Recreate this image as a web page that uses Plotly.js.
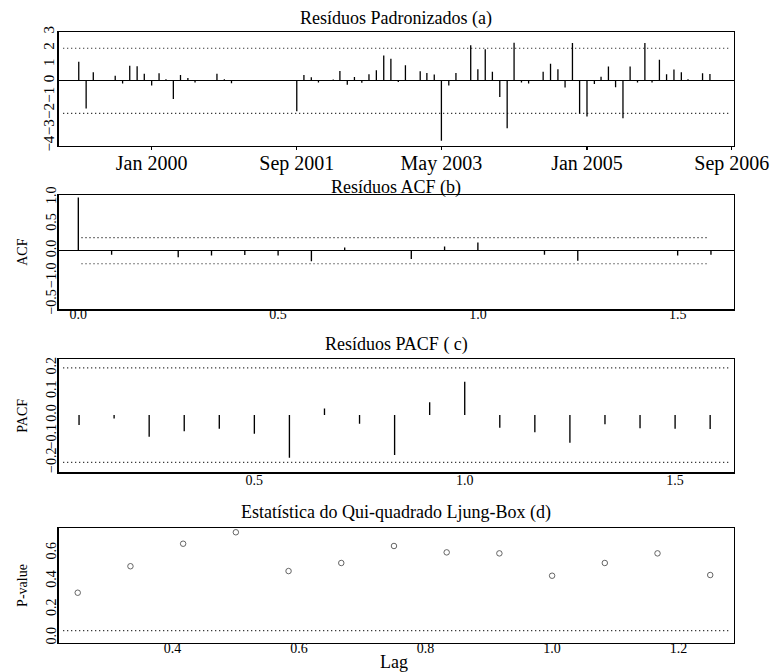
<!DOCTYPE html>
<html><head><meta charset="utf-8">
<script src="https://cdn.plot.ly/plotly-3.0.1.min.js"></script>
<style>html,body{margin:0;padding:0;background:#fff}#chart{width:773px;height:672px}</style>
</head><body><div id="chart"></div>
<script>
// ---- data ----
const residStartYear = 1999;
const residStartMonth = 3; // March 1999
const residValues = [
  1.17, -1.71, 0.52, 0, 0, 0.31, -0.17, 0.92, 0.90, 0.44,
  -0.29, 0.46, 0.10, -1.12, 0.35, 0.17, -0.10, 0, 0, 0.44,
  0.10, -0.15, 0, 0, 0, 0, 0, 0, 0, 0,
  -1.88, 0.35, 0.21, -0.10, 0, 0.08, 0.60, -0.25, 0.23, -0.12,
  0.40, 0.65, 1.56, 1.35, -0.08, 0.96, 0, 0.58, 0.48, 0.38,
  -3.68, -0.29, 0.48, 0, 2.18, 0.71, 1.94, 0.56, -1.00, -2.92,
  2.34, -0.10, -0.17, 0, 0.56, 1.04, 0.71, -0.42, 2.33, -2.03,
  -2.20, -0.19, 0.25, 0.88, -0.40, -2.30, 0.88, -0.10, 2.33, -0.10,
  1.30, 0.40, 0.70, 0.52, 0.10, 0, 0.46, 0.42
];
const dateTickVals = ['2000-01-01', '2001-09-01', '2003-05-01', '2005-01-01', '2006-09-01'];
const dateTickText = ['Jan 2000', 'Sep 2001', 'May 2003', 'Jan 2005', 'Sep 2006'];
const residTickVals = [-4, -3, -2, -1, 0, 1, 2, 3];
const residTickText = ['\u22124', '\u22123', '\u22122', '\u22121', '0', '1', '2', '3'];
const residBand = [2, -2];

const acfLagMonths = [0, 1, 2, 3, 4, 5, 6, 7, 8, 9, 10, 11, 12, 13, 14, 15, 16, 17, 18, 19];
const acfValues = [1.0, -0.075, 0.0, -0.125, -0.09, -0.08, -0.09, -0.20, 0.06, 0.0,
                   -0.155, 0.08, 0.155, 0.0, -0.075, -0.19, 0.0, 0.0, -0.09, -0.075];
const acfTickVals = [-1, -0.5, 0, 0.5, 1];
const acfTickText = ['\u22120.5', '\u22121.0', '0.0', '0.5', '1.0'];
const acfBand = [0.245, -0.245];

const pacfLagMonths = [1, 2, 3, 4, 5, 6, 7, 8, 9, 10, 11, 12, 13, 14, 15, 16, 17, 18, 19];
const pacfValues = [-0.042, -0.014, -0.092, -0.068, -0.058, -0.079, -0.180, 0.028, -0.037, -0.169,
                    0.054, 0.141, -0.054, -0.073, -0.117, -0.039, -0.056, -0.058, -0.059];
const pacfTickVals = [-0.2, -0.1, 0, 0.1, 0.2];
const pacfTickText = ['\u22120.2', '\u22120.1', '0.0', '0.1', '0.2'];
const pacfBand = [0.2, -0.2];

const lbLagMonths = [3, 4, 5, 6, 7, 8, 9, 10, 11, 12, 13, 14, 15];
const lbPValues = [0.318, 0.505, 0.664, 0.745, 0.471, 0.528, 0.648, 0.603, 0.596, 0.438, 0.528, 0.596, 0.443];
const lbTickVals = [0, 0.2, 0.4, 0.6];
const lbTickText = ['0.0', '0.2', '0.4', '0.6'];
const lbLevel = 0.05;

const lagTickVals = [0, 0.5, 1, 1.5];
const lagTickText = ['0.0', '0.5', '1.0', '1.5'];
const lbXTickVals = [0.4, 0.6, 0.8, 1.0, 1.2];
const lbXTickText = ['0.4', '0.6', '0.8', '1.0', '1.2'];

// ---- derived ----
const residDates = residValues.map((_, i) => {
  const t = (residStartMonth - 1) + i;
  const y = residStartYear + Math.floor(t / 12);
  const m = (t % 12) + 1;
  return y + '-' + String(m).padStart(2, '0') + '-01';
});
const acfLags = acfLagMonths.map(k => k / 12);
const pacfLags = pacfLagMonths.map(k => k / 12);
const lbLags = lbLagMonths.map(k => k / 12);

const FONT = '"Liberation Serif", "Times New Roman", serif';
const W = 773, H = 672;
const xDom = [58.5 / W, 734 / W];
const yDom = (top, bot) => [1 - bot / H, 1 - top / H];

const frame = {
  showline: true, mirror: true, linecolor: '#000', linewidth: 1.3,
  showgrid: false, zeroline: false, color: '#000',
  tickfont: {family: FONT, size: 14, color: '#000'}
};

const traces = [
  {type: 'bar', x: residDates, y: residValues, xaxis: 'x', yaxis: 'y',
   width: 4.7e8, marker: {color: '#000', line: {width: 0}}, hoverinfo: 'skip'},
  {type: 'bar', x: acfLags, y: acfValues, xaxis: 'x2', yaxis: 'y2',
   width: 0.0034, marker: {color: '#000', line: {width: 0}}, hoverinfo: 'skip'},
  {type: 'bar', x: pacfLags, y: pacfValues, xaxis: 'x3', yaxis: 'y3',
   width: 0.0032, marker: {color: '#000', line: {width: 0}}, hoverinfo: 'skip'},
  {type: 'scatter', mode: 'markers', x: lbLags, y: lbPValues, xaxis: 'x4', yaxis: 'y4',
   marker: {symbol: 'circle-open', size: 5.5, color: '#555', line: {width: 0.9, color: '#555'}},
   hoverinfo: 'skip'}
];

const dotted = {color: '#000', width: 1.2, dash: '1px,3px'};
const shapes = [];
residBand.forEach(v => shapes.push({type: 'line', xref: 'x domain', yref: 'y', x0: 0.007, x1: 0.993, y0: v, y1: v, line: dotted}));
acfBand.forEach(v => shapes.push({type: 'line', xref: 'x2', yref: 'y2', x0: 0.008, x1: 1.575, y0: v, y1: v, line: dotted}));
pacfBand.forEach(v => shapes.push({type: 'line', xref: 'x3 domain', yref: 'y3', x0: 0.007, x1: 0.993, y0: v, y1: v, line: dotted}));
shapes.push({type: 'line', xref: 'x4 domain', yref: 'y4', x0: 0.007, x1: 0.993, y0: lbLevel, y1: lbLevel, line: dotted});

const titleFont = {family: FONT, size: 18, color: '#000'};
const cx = (xDom[0] + xDom[1]) / 2;
const annotations = [
  {text: 'Resíduos Padronizados (a)', x: cx, y: 1 - 18.3 / H},
  {text: 'Resíduos ACF (b)', x: cx, y: 1 - 187 / H},
  {text: 'Resíduos PACF ( c)', x: cx, y: 1 - 344.5 / H},
  {text: 'Estatística do Qui-quadrado Ljung-Box (d)', x: cx, y: 1 - 512.5 / H},
].map(a => Object.assign({xref: 'paper', yref: 'paper', showarrow: false,
  xanchor: 'center', yanchor: 'middle', font: titleFont}, a));
annotations.push({text: 'Lag', xref: 'paper', yref: 'paper', x: 394 / W, y: 1 - 662 / H,
  showarrow: false, xanchor: 'center', yanchor: 'middle', font: {family: FONT, size: 18, color: '#000'}});

const ytitle = (t) => ({text: t, font: {family: FONT, size: 14, color: '#000'}, standoff: 12});

const layout = {
  width: W, height: H, margin: {l: 0, r: 0, t: 0, b: 0},
  paper_bgcolor: '#fff', plot_bgcolor: '#fff', showlegend: false,
  font: {family: FONT, color: '#000'},
  xaxis: Object.assign({}, frame, {domain: xDom, anchor: 'y', type: 'date',
    range: ['1998-12-06', '2006-09-10'], tickmode: 'array', tickvals: dateTickVals, ticktext: dateTickText,
    ticks: 'outside', ticklen: 3, tickcolor: '#000', tickwidth: 1.2, ticklabelstandoff: -4,
    tickfont: {family: FONT, size: 20, color: '#000'}}),
  yaxis: Object.assign({}, frame, {domain: yDom(32, 146), anchor: 'x', range: [-4.01, 3.0],
    tickmode: 'array', tickvals: residTickVals, ticktext: residTickText, tickangle: -90,
    tickfont: {family: FONT, size: 15, color: '#000'},
    ticks: '', ticklabelstandoff: -3, zeroline: true, zerolinecolor: '#000', zerolinewidth: 1.3}),
  xaxis2: Object.assign({}, frame, {domain: xDom, anchor: 'y2', range: [-0.0496, 1.641],
    tickmode: 'array', tickvals: lagTickVals, ticktext: lagTickText, ticks: '', ticklabelstandoff: -8}),
  yaxis2: Object.assign({}, frame, {domain: yDom(195, 309.3), anchor: 'x2', range: [-1.10, 1.045],
    tickmode: 'array', tickvals: acfTickVals, ticktext: acfTickText, tickangle: -90, ticks: '',
    ticklabelstandoff: -4,
    zeroline: true, zerolinecolor: '#000', zerolinewidth: 1.3, title: ytitle('ACF')}),
  xaxis3: Object.assign({}, frame, {domain: xDom, anchor: 'y3', range: [0.0345, 1.640],
    tickmode: 'array', tickvals: lagTickVals.slice(1), ticktext: lagTickText.slice(1), ticks: '',
    ticklabelstandoff: -5}),
  yaxis3: Object.assign({}, frame, {domain: yDom(359.3, 472.3), anchor: 'x3', range: [-0.242, 0.236],
    tickmode: 'array', tickvals: pacfTickVals, ticktext: pacfTickText, tickangle: -90, ticks: '',
    ticklabelstandoff: -4, title: ytitle('PACF')}),
  xaxis4: Object.assign({}, frame, {domain: xDom, anchor: 'y4', range: [0.2196, 1.2876],
    tickmode: 'array', tickvals: lbXTickVals, ticktext: lbXTickText, ticks: '', ticklabelstandoff: -8}),
  yaxis4: Object.assign({}, frame, {domain: yDom(528.3, 642.7), anchor: 'x4', range: [-0.035, 0.773],
    tickmode: 'array', tickvals: lbTickVals, ticktext: lbTickText, tickangle: -90, ticks: '',
    ticklabelstandoff: -4, title: ytitle('P-value')}),
  shapes: shapes,
  annotations: annotations
};

Plotly.newPlot('chart', traces, layout, {staticPlot: true, displayModeBar: false});
</script>
</body></html>
